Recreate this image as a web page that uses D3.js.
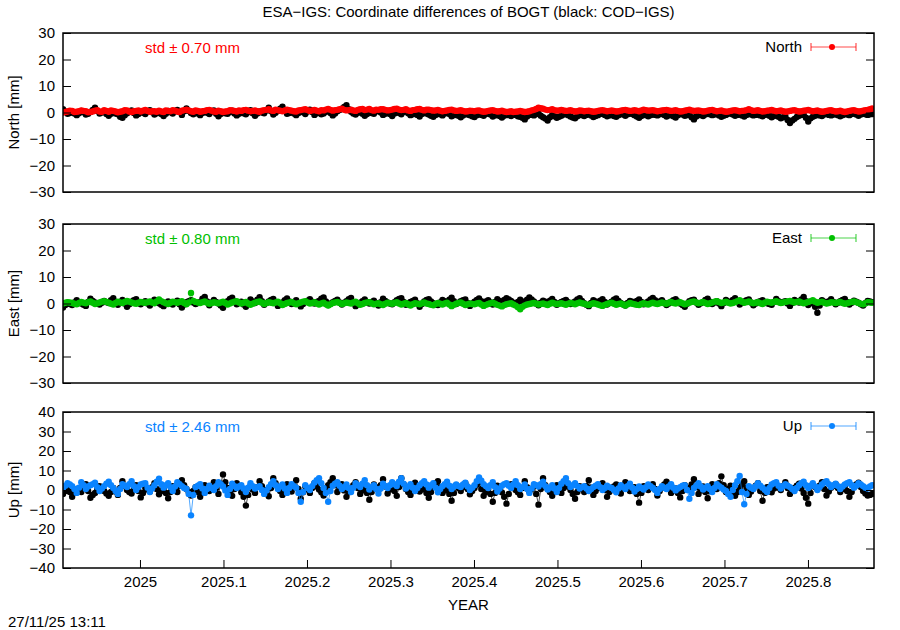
<!DOCTYPE html>
<html>
<head>
<meta charset="utf-8">
<script src="https://cdn.jsdelivr.net/npm/d3@7"></script>
<style>
html,body{margin:0;padding:0;background:#fff;}
svg{display:block;font-family:"Liberation Sans",Arial,Helvetica,sans-serif;}
</style>
</head>
<body>
<svg id="chart" width="900" height="630"></svg>
<script>
// ---------------- DATA ----------------
const title = "ESA\u2212IGS: Coordinate differences of BOGT (black: COD\u2212IGS)";
const xLabel = "YEAR";
const timestamp = "27/11/25 13:11";
const xDomain = [2024.9078, 2025.8791];
const xTicks = [2025, 2025.1, 2025.2, 2025.3, 2025.4, 2025.5, 2025.6, 2025.7, 2025.8];
const startYear = 2024.9078;       // first daily epoch
const stepYears = 1 / 365.25;      // one day

const components = ["North", "East", "Up"];
const stdLabels = ["0.70", "0.80", "2.46"];
const yDomains = [[-30, 30], [-30, 30], [-40, 40]];
const yTicks = [
  [-30, -20, -10, 0, 10, 20, 30],
  [-30, -20, -10, 0, 10, 20, 30],
  [-40, -30, -20, -10, 0, 10, 20, 30, 40]
];
const seriesColors = ["#ff0000", "#00c000", "#0a84ff"];

const northESA = [
0.0,0.2,0.4,0.7,0.6,0.2,0.3,0.5,0.8,0.6,0.5,0.1,0.2,0.4,0.7,0.9,0.4,0.3,0.9,0.6,
0.3,0.8,0.6,0.4,0.1,0.3,0.5,0.9,0.8,0.4,0.2,0.5,0.6,0.8,0.4,0.7,1.0,0.6,0.3,0.5,
0.5,0.3,0.7,0.4,0.2,0.8,0.6,0.5,0.9,0.7,0.4,0.2,0.7,0.9,1.1,0.8,0.5,0.3,0.8,0.6,
0.3,0.5,0.6,0.9,1.0,0.7,0.4,0.3,0.7,0.5,0.2,0.4,0.5,0.9,0.8,0.6,0.4,0.8,0.6,0.9,
1.0,0.7,0.5,0.6,0.8,0.5,0.3,0.7,0.9,1.0,1.2,0.8,0.6,1.1,0.9,0.7,0.5,0.8,1.1,0.9,
0.7,0.5,0.4,0.8,0.9,1.1,1.2,0.9,0.6,0.8,1.0,0.7,0.5,0.9,0.8,1.1,1.3,1.0,0.7,0.9,
1.0,1.2,1.4,1.0,0.8,0.9,1.1,0.8,0.6,1.0,1.2,1.3,0.9,1.1,1.3,0.9,0.7,1.1,1.0,1.2,
1.2,1.0,0.8,0.9,1.1,1.3,1.4,1.1,0.9,1.0,1.2,0.8,0.6,0.9,1.0,1.2,1.3,1.0,0.8,1.1,
1.1,0.9,0.7,0.8,1.0,0.7,0.5,0.6,0.8,1.0,1.1,0.8,0.6,0.7,0.9,0.6,0.4,0.5,0.7,0.6,
0.5,0.7,0.8,0.5,0.3,0.4,0.6,0.8,0.9,0.6,0.4,0.5,0.7,0.4,0.2,0.3,0.5,0.2,0.3,0.4,
0.6,0.4,0.2,0.3,0.5,0.8,1.0,1.3,1.8,1.6,1.4,1.1,0.9,1.0,1.2,0.9,0.7,0.8,1.0,0.8,
0.6,0.7,0.9,0.6,0.4,0.5,0.8,0.7,0.5,0.6,0.7,0.5,0.3,0.4,0.6,0.8,0.9,0.7,0.5,0.6,
0.8,0.6,0.4,0.5,0.7,0.9,1.0,0.8,0.6,0.7,0.9,0.7,0.5,0.8,1.1,0.9,0.7,0.8,0.9,0.7,
0.5,0.6,0.8,0.9,1.0,0.8,0.6,0.7,0.9,0.6,0.4,0.5,0.7,0.9,1.1,0.8,0.6,0.7,0.8,0.6,
0.4,0.5,0.7,0.9,1.0,0.7,0.5,0.6,0.8,0.5,0.3,0.4,0.6,0.8,0.9,0.7,0.5,0.6,0.7,0.9,
1.2,0.9,0.6,0.7,0.9,0.6,0.4,0.5,0.7,0.8,1.0,0.7,0.5,0.6,0.8,0.5,0.3,0.4,0.6,0.8,
0.9,0.6,0.4,0.5,0.7,0.8,1.0,0.7,0.5,0.6,0.8,0.5,0.3,0.4,0.6,0.8,0.9,0.6,0.4,0.5,
0.7,0.4,0.2,0.4,0.6,0.8,0.9,0.6,0.4,0.5,0.7,0.9,1.0,1.2,1.5
];
const northCOD = [
1.2,0.4,-0.5,-0.2,0.3,-0.4,-1.0,-0.3,0.6,0.1,-0.8,-0.5,0.2,1.0,1.8,0.6,-0.4,0.0,0.5,-0.6,
-1.2,-0.5,0.0,-0.4,-0.7,-1.6,-2.0,-1.0,-0.3,0.2,0.8,-0.2,-1.1,-0.6,0.4,-0.1,-0.6,0.3,0.9,0.1,
-0.8,-0.3,0.2,-0.6,-1.3,-0.5,0.6,0.1,-0.4,0.4,1.0,0.2,-0.9,0.5,1.5,0.6,-0.2,-0.7,0.3,-0.4,
-1.0,-0.2,0.5,-0.1,-0.6,0.3,0.8,-0.5,-1.4,-0.6,0.1,-0.3,-0.5,0.2,0.7,-0.4,-1.1,-0.5,0.2,-0.3,
-0.7,0.1,0.9,-0.3,-1.2,-0.4,0.4,0.0,-0.3,0.8,1.8,0.5,-0.8,-0.1,0.6,1.4,2.2,0.7,-0.5,-0.2,
0.3,-0.4,-1.0,-0.2,0.7,0.1,-0.6,0.4,1.1,0.2,-0.9,-0.3,0.2,-0.7,-0.4,0.3,0.9,-0.2,-1.1,-0.4,
0.5,0.9,1.4,2.1,2.8,1.2,0.3,-0.4,-0.8,-0.1,0.6,-0.5,-1.2,-0.6,0.2,-0.2,-0.5,0.4,0.8,0.0,
-0.9,-0.5,0.1,-0.6,-1.3,-0.4,0.4,-0.2,-0.7,0.2,0.9,-0.3,-1.0,-0.7,-0.2,-0.9,-1.5,-0.6,0.3,-0.4,
-0.8,-1.2,-1.6,-0.9,-0.3,-0.7,-1.1,-0.4,0.2,-0.6,-1.4,-1.0,-0.6,-1.2,-1.8,-1.1,-0.4,-0.8,-1.0,-1.4,
-1.7,-1.0,-0.5,-0.9,-1.2,-0.6,-0.2,-0.8,-1.5,-1.1,-0.8,-1.3,-1.9,-1.2,-0.6,-1.0,-1.3,-0.7,-0.9,-1.4,
-1.6,-2.0,-2.6,-1.5,-0.7,-0.9,-1.1,-0.6,-0.4,-1.2,-1.8,-2.3,-3.0,-1.8,-0.9,-1.4,-2.0,-1.6,-1.2,-0.8,
-0.6,-1.0,-1.5,-1.9,-2.2,-1.4,-0.8,-1.0,-1.3,-0.9,-0.5,-1.1,-1.7,-1.3,-1.0,-0.6,-0.4,-0.9,-1.4,-1.1,
-0.9,-1.3,-1.6,-1.0,-0.5,-0.8,-1.2,-0.7,-0.3,-0.6,-1.0,-1.5,-2.0,-1.3,-0.7,-1.0,-1.4,-1.0,-0.6,-0.9,
-1.1,-0.7,-0.4,-0.9,-1.5,-1.1,-0.8,-1.4,-1.9,-1.0,-0.5,-0.8,-1.2,-1.0,-0.9,-1.8,-2.6,-1.5,-0.7,-1.0,
-1.3,-0.8,-0.4,-0.7,-1.0,-0.8,-0.6,-1.1,-1.6,-1.2,-0.9,-0.5,-0.3,-0.8,-1.2,-0.9,-0.7,-1.1,-1.5,-0.9,
-0.5,-0.8,-1.1,-0.9,-0.8,-1.1,-1.4,-0.9,-0.6,-1.2,-1.8,-1.3,-1.0,-1.6,-2.2,-1.8,-1.5,-2.8,-4.0,-3.0,
-2.4,-1.7,-1.2,-0.9,-0.8,-2.0,-3.4,-2.2,-1.6,-1.2,-0.9,-1.1,-1.3,-0.8,-0.5,-0.9,-1.1,-0.8,-0.7,-1.0,
-1.4,-1.0,-0.6,-0.8,-1.0,-0.6,-0.3,-0.8,-1.2,-0.8,-0.5,-0.7,-0.9,-0.7,-0.6
];
const eastESA = [
0.0,0.3,0.5,0.4,0.2,-0.1,-0.3,0.2,0.6,0.3,0.1,0.5,0.8,0.3,-0.2,0.1,0.4,0.7,0.9,0.6,
0.3,-0.1,-0.4,0.2,0.7,0.4,0.2,0.6,1.0,0.7,0.4,0.1,-0.1,0.3,0.6,0.4,0.3,0.5,0.8,0.4,
0.1,0.8,1.5,0.9,0.5,0.1,-0.2,0.3,0.7,0.5,0.3,0.6,0.9,0.2,-0.3,0.4,4.0,1.0,0.6,0.4,
0.2,0.5,0.8,0.3,-0.1,0.2,0.5,0.3,0.1,0.4,0.7,0.2,-0.4,0.0,0.4,0.7,0.9,0.4,0.0,0.3,
0.6,0.0,-0.5,-0.1,0.3,0.6,0.8,0.3,-0.2,0.2,0.5,0.3,0.1,0.4,0.7,0.1,-0.6,-0.2,0.2,0.4,
0.6,0.1,-0.3,0.1,0.4,0.7,0.9,0.4,0.0,0.2,0.5,0.0,-0.4,0.0,0.3,-0.3,-0.8,-0.3,0.2,0.4,
0.6,0.2,-0.2,0.1,0.4,0.2,0.0,0.4,0.7,0.1,-0.5,-0.2,0.2,0.4,0.5,0.1,-0.3,-0.1,0.1,-0.3,
-0.6,-0.1,0.3,0.1,-0.1,0.2,0.5,0.0,-0.4,-0.1,0.2,-0.3,-0.8,-0.3,0.1,-0.1,-0.3,0.1,0.4,0.0,
-0.2,-0.5,-0.7,-0.2,0.2,-0.1,-0.4,0.0,0.3,-0.4,-1.0,-0.5,-0.1,0.2,0.4,-0.1,-0.6,-0.3,0.0,-0.2,
-0.3,0.0,0.2,-0.4,-0.9,-0.5,-0.2,0.1,0.3,-0.1,-0.5,-0.8,-1.1,-0.6,-0.3,-0.1,0.1,-0.4,-0.8,-1.4,
-2.2,-1.2,-0.7,-0.4,-0.2,0.0,0.2,-0.1,-0.4,-0.2,0.0,-0.3,-0.6,-0.1,0.3,0.0,-0.2,-0.1,0.1,-0.2,
-0.5,-0.1,0.2,0.0,-0.3,0.1,0.4,0.1,-0.1,-0.4,-0.6,-0.2,0.1,-0.1,-0.4,-0.7,-0.9,-0.5,-0.2,0.1,
0.3,-0.1,-0.5,-0.2,0.0,-0.4,-0.8,-0.3,0.2,-0.1,-0.3,-0.5,-0.6,-0.2,0.1,-0.2,-0.4,0.0,0.3,0.0,
-0.2,0.1,0.4,0.1,-0.1,0.3,0.6,0.2,0.0,0.3,0.5,0.1,-0.3,0.0,0.3,0.6,0.8,0.4,0.1,0.3,
0.6,0.2,-0.2,0.1,0.4,0.7,0.9,0.5,0.2,0.4,0.7,0.3,0.0,0.2,0.5,0.9,1.2,0.7,0.3,0.5,
0.8,0.4,0.1,0.3,0.5,0.1,-0.2,0.3,0.7,0.5,0.3,0.6,0.9,0.5,0.2,0.4,0.6,0.8,1.0,0.7,
0.4,0.6,0.8,0.4,0.1,0.3,0.6,0.9,1.2,0.7,0.3,0.5,0.7,0.3,0.0,0.2,0.5,0.4,0.2,0.4,
0.6,0.2,-0.1,0.1,0.4,0.6,0.8,0.5,0.2,-0.1,-0.3,0.1,0.5,0.4,0.3
];
const eastCOD = [
-1.5,-0.6,0.3,-0.2,-0.6,0.4,1.2,0.5,0.0,-0.5,-0.9,0.6,1.8,1.0,0.4,-0.1,-0.4,0.3,1.0,0.5,
0.2,1.2,2.0,0.6,-0.5,0.5,1.3,0.0,-1.2,-0.3,0.7,1.2,1.6,0.6,-0.3,0.4,0.9,0.0,-0.8,0.3,
1.4,0.7,0.1,-0.5,-1.0,0.0,0.8,0.3,-0.4,0.5,1.1,-0.3,-1.5,-0.4,0.5,0.9,1.2,0.4,-0.2,0.2,
0.6,1.8,2.5,0.8,-0.7,0.4,1.3,0.6,0.0,-0.8,-1.6,-0.2,0.9,1.7,2.2,0.9,-0.3,0.2,0.7,-0.4,
-1.2,0.3,1.5,0.8,0.2,1.4,2.4,0.9,-0.5,0.2,0.8,1.3,1.7,0.4,-0.9,-0.2,0.4,1.2,1.9,0.8,
-0.2,0.6,1.2,0.0,-1.1,-0.2,0.6,1.1,1.6,0.7,0.0,0.6,1.0,1.8,2.3,0.8,-0.6,0.0,0.5,1.0,
1.4,0.4,-0.4,0.3,0.9,1.6,2.1,0.5,-1.0,-0.3,0.3,0.9,1.5,0.6,0.0,0.6,1.1,0.2,-0.8,0.5,
1.8,1.0,0.4,0.0,-0.3,0.5,1.2,1.7,2.0,0.6,-0.5,0.1,0.6,1.0,1.4,0.1,-1.2,-0.2,0.8,1.3,
1.6,0.8,0.1,-0.3,-0.6,0.4,1.3,0.9,0.5,1.4,2.2,0.9,-0.2,0.3,0.9,1.2,1.5,0.2,-0.9,0.0,
0.7,1.3,1.9,0.9,0.2,0.8,1.2,0.4,-0.4,0.6,1.6,1.0,0.5,1.3,2.0,1.5,1.0,0.3,-0.3,0.6,
1.4,0.8,0.3,1.4,2.3,1.5,0.8,0.0,-0.7,0.3,1.1,0.7,0.4,1.1,1.7,0.6,-0.5,0.1,0.6,1.0,
1.3,0.5,-0.2,0.3,0.8,1.5,2.0,1.0,0.1,-0.5,-1.0,0.2,1.2,0.8,0.5,1.1,1.6,0.6,-0.4,0.2,
0.7,1.4,1.9,1.0,0.2,-0.3,-0.8,0.2,1.0,0.7,0.4,1.0,1.5,0.6,-0.3,0.3,0.8,1.5,2.1,1.2,
0.3,0.8,1.2,0.3,-0.6,0.0,0.7,1.2,1.6,0.8,0.0,-0.6,-1.2,-0.1,0.9,1.2,1.4,0.4,-0.5,0.1,
0.6,1.3,1.8,0.7,-0.2,0.4,0.9,0.0,-1.0,0.2,1.3,0.8,0.4,1.3,2.0,0.8,-0.4,0.2,0.8,1.2,
1.5,0.4,-0.7,0.0,0.6,0.9,1.2,0.6,0.1,-0.2,-0.5,0.6,1.7,0.9,0.3,0.6,0.9,0.0,-0.9,0.2,
1.3,0.9,0.4,1.5,2.5,0.9,-0.6,0.1,0.8,-1.2,-3.5,-0.8,1.2,0.7,0.2,0.9,1.6,0.6,-0.3,0.3,
0.9,1.3,1.7,0.6,-0.4,0.3,1.1,0.7,0.3,-0.3,-0.8,0.1,1.0,0.8,0.5
];
const upESA = [
1.0,2.2,3.5,2.8,2.0,0.5,-1.5,1.2,4.0,2.5,0.5,1.8,2.5,3.0,3.8,1.5,-0.5,0.8,2.0,3.2,
4.2,2.5,1.0,-0.5,-2.0,0.5,3.0,2.2,1.5,3.0,4.5,2.0,0.0,1.5,2.8,3.2,3.5,1.2,-1.0,0.8,
2.5,4.2,5.8,3.0,1.2,2.5,3.5,1.5,-0.5,1.8,4.0,3.0,2.0,1.0,0.5,-2.0,-13.0,-2.5,1.5,2.2,
3.0,0.8,-1.5,0.5,2.2,1.0,0.0,2.0,4.0,3.0,1.8,-0.2,-2.5,0.5,3.2,2.0,1.0,1.8,2.5,0.8,
-1.0,1.2,3.5,2.0,0.8,1.5,2.0,0.0,-2.0,-0.2,1.5,3.0,4.5,2.5,0.5,1.8,2.8,0.8,-1.5,1.0,
3.0,2.0,1.2,-1.5,-6.0,-1.0,2.5,1.0,0.0,2.0,3.8,5.0,6.0,3.5,1.0,-1.5,-6.0,-0.5,2.2,3.2,
4.0,2.2,0.5,1.5,2.8,1.0,-1.0,1.2,3.5,2.5,1.5,3.2,5.0,2.5,0.2,1.5,2.5,0.5,-1.8,0.8,
3.2,2.0,1.0,2.5,4.0,3.0,2.0,4.2,6.0,3.2,0.8,1.8,3.0,1.2,-0.5,1.0,2.5,3.5,4.5,2.8,
1.2,2.5,3.5,1.2,-1.2,0.5,2.0,3.0,4.2,2.2,0.5,1.8,2.8,2.0,1.5,2.8,3.8,1.8,0.0,1.2,
2.5,4.5,6.5,4.8,3.0,2.0,1.0,2.5,4.0,1.5,-0.8,0.8,2.2,3.0,3.5,2.2,1.0,2.8,4.5,2.5,
0.5,1.5,2.8,0.5,-1.5,0.8,3.0,2.5,1.8,3.0,4.2,2.0,0.2,1.2,2.5,0.8,-1.0,1.0,3.2,4.5,
6.0,3.5,1.5,2.5,3.5,2.0,0.8,1.5,2.0,0.8,-0.5,0.5,1.5,2.2,3.0,1.5,0.0,1.0,2.2,1.5,
1.0,0.0,-1.2,0.8,2.5,1.5,0.5,2.0,3.2,1.2,-0.8,0.5,1.8,1.0,0.2,1.5,2.8,2.0,1.0,0.0,
-1.5,0.5,2.0,1.2,0.5,1.8,3.0,1.2,-0.2,0.8,1.5,2.2,2.5,0.0,-4.5,-1.5,1.0,2.2,3.5,1.8,
0.2,1.2,2.0,0.5,-1.0,1.0,3.0,2.0,1.2,0.2,-0.5,-2.0,-3.5,0.0,2.5,4.5,7.2,-1.0,-7.3,-2.0,
2.0,1.2,0.5,2.0,3.5,2.2,1.2,0.0,-1.0,1.0,2.8,3.5,4.0,2.2,0.8,2.0,3.0,2.2,1.5,0.5,
-0.5,1.0,2.5,3.5,4.2,2.5,1.0,2.2,3.5,1.8,0.0,1.5,2.8,3.8,4.5,3.0,1.5,2.5,3.2,2.0,
0.5,1.8,2.8,3.5,4.0,2.5,1.2,2.2,3.5,2.8,2.0,1.2,0.8,1.8,2.5
];
const upCOD = [
-2.0,-0.5,1.5,-1.0,-3.5,-1.5,0.5,0.0,-1.0,1.2,3.0,-0.5,-4.0,-2.5,-1.5,0.5,2.0,0.8,-0.5,-1.8,
-3.0,-1.0,1.0,-0.8,-2.5,1.0,4.5,2.0,0.0,-1.0,-1.8,0.5,2.5,-0.5,-3.8,-1.5,1.2,0.2,-0.8,1.5,
3.5,0.5,-2.2,-0.5,0.8,-1.5,-4.2,-1.0,2.0,0.5,-1.0,2.0,5.0,2.5,0.5,-1.0,-2.8,-0.5,1.5,-1.0,
-3.5,-0.5,2.5,1.0,-0.5,1.5,4.0,1.0,-2.0,3.0,8.0,4.0,1.0,-1.0,-3.0,0.5,3.5,1.2,-1.2,-3.5,
-8.0,-2.5,2.0,0.2,-1.5,1.5,4.5,2.0,0.0,-1.5,-3.2,1.0,6.0,3.5,1.5,-0.5,-2.5,0.5,3.0,1.0,
-0.8,2.0,5.0,0.5,-4.5,-1.2,1.8,0.2,-1.5,1.0,3.5,1.8,0.2,-1.2,-2.8,0.0,2.5,4.0,6.0,2.5,
-1.0,1.0,3.0,-0.2,-3.5,-1.2,0.8,2.5,4.0,1.0,-2.0,-0.2,1.5,-1.5,-5.0,-1.0,2.8,1.5,0.0,2.5,
5.5,1.8,-1.8,0.2,2.2,-0.5,-3.0,1.5,6.0,3.0,0.5,-1.0,-2.5,0.5,3.8,1.5,-0.8,0.2,1.5,-1.5,
-4.0,-1.0,2.0,3.5,4.5,1.5,-1.5,-0.2,0.8,-2.0,-5.5,-1.5,2.5,1.0,-0.5,1.5,3.5,0.5,-2.2,-0.5,
1.0,2.8,4.0,0.5,-3.0,-1.0,0.5,-2.0,-6.0,-1.5,2.2,0.5,-1.2,-3.5,-7.0,-2.0,3.0,1.2,0.0,-1.2,
-2.5,1.0,4.5,1.5,-0.8,0.5,1.8,-2.0,-7.5,0.5,6.0,2.5,0.5,-1.0,-3.0,-0.2,2.5,0.5,-1.5,1.0,
3.8,1.8,0.0,-2.0,-4.5,-1.0,2.0,0.5,-1.0,2.0,5.0,1.2,-2.5,-0.5,1.0,2.2,3.5,0.0,-3.5,-1.0,
0.5,1.8,2.8,0.5,-1.8,1.0,4.0,1.5,-0.5,0.5,1.5,-2.0,-6.5,-1.5,2.0,1.0,0.0,1.5,3.0,0.5,
-2.8,-0.5,1.2,2.8,4.2,1.5,-1.5,-0.2,0.8,-1.5,-3.8,-0.5,2.5,1.2,0.0,2.8,5.5,1.5,-2.0,-0.2,
1.8,-1.0,-4.2,-0.5,3.0,1.8,0.5,3.5,7.0,2.5,-1.0,0.5,2.2,-0.5,-3.0,-1.0,1.0,2.8,4.5,1.0,
-2.5,-0.8,0.8,2.2,3.5,-0.5,-5.5,-1.5,1.5,0.2,-1.2,0.8,2.8,1.2,0.0,2.0,4.0,1.0,-2.0,-0.5,
1.0,2.2,3.2,0.8,-1.5,-4.0,-7.0,-1.5,2.5,1.5,0.5,2.2,4.0,0.5,-2.8,-0.8,1.2,2.0,3.0,1.0,
-1.0,0.5,2.0,-0.5,-3.5,-1.0,1.5,2.8,3.8,1.5,-0.5,-1.8,-2.8,-2.5,-2.0
];
const esaSeries = [northESA, eastESA, upESA];
const codSeries = [northCOD, eastCOD, upCOD];

// ---------------- LAYOUT ----------------
const svg = d3.select("#chart");
const plotLeft = 63, plotRight = 874;
const panelTops = [33, 224, 412];
const panelBottoms = [192, 383, 568];
const fontSize = 15;
const fontFam = "Liberation Sans, Arial, sans-serif";

const x = d3.scaleLinear().domain(xDomain).range([plotLeft, plotRight]);

svg.append("text")
  .attr("x", (plotLeft + plotRight) / 2).attr("y", 17)
  .attr("text-anchor", "middle").attr("font-size", fontSize)
  .text(title);

const clipDefs = svg.append("defs");

components.forEach((comp, p) => {
  const y = d3.scaleLinear().domain(yDomains[p]).range([panelBottoms[p], panelTops[p]]);
  const g = svg.append("g");
  const clipId = "clip" + p;
  clipDefs.append("clipPath").attr("id", clipId).append("rect")
    .attr("x", plotLeft).attr("y", panelTops[p])
    .attr("width", plotRight - plotLeft).attr("height", panelBottoms[p] - panelTops[p]);

  const toPts = arr => arr.map((v, i) => ({t: startYear + i * stepYears, v}));
  const line = d3.line().x(d => x(d.t)).y(d => y(d.v));
  const dataG = g.append("g").attr("clip-path", `url(#${clipId})`);

  [[codSeries[p], "#000000"], [esaSeries[p], seriesColors[p]]].forEach(([arr, col]) => {
    const pts = toPts(arr);
    dataG.append("path").datum(pts)
      .attr("d", line).attr("fill", "none")
      .attr("stroke", col).attr("stroke-width", 1).attr("stroke-opacity", 0.7);
    dataG.selectAll(null).data(pts).enter().append("circle")
      .attr("cx", d => x(d.t)).attr("cy", d => y(d.v))
      .attr("r", 3.2).attr("fill", col);
  });

  // left axis: ticks inward
  const leftAxis = d3.axisLeft(y).tickValues(yTicks[p]).tickSize(-8).tickPadding(8)
    .tickFormat(d => d < 0 ? "\u2212" + Math.abs(d) : String(d));
  const la = g.append("g").attr("transform", `translate(${plotLeft},0)`).call(leftAxis);
  la.select(".domain").remove();
  la.selectAll("text").attr("font-size", fontSize).attr("font-family", fontFam).attr("fill", "#000");
  la.selectAll("line").attr("stroke", "#000").attr("stroke-width", 1);

  // right mirrored ticks
  const rightAxis = d3.axisRight(y).tickValues(yTicks[p]).tickSize(-8).tickFormat("");
  const ra = g.append("g").attr("transform", `translate(${plotRight},0)`).call(rightAxis);
  ra.select(".domain").remove();
  ra.selectAll("line").attr("stroke", "#000").attr("stroke-width", 1);

  if (p === components.length - 1) {
    const bottomAxis = d3.axisBottom(x).tickValues(xTicks).tickSize(-8).tickPadding(8)
      .tickFormat(d => String(+d.toFixed(1)));
    const ba = g.append("g").attr("transform", `translate(0,${panelBottoms[p]})`).call(bottomAxis);
    ba.select(".domain").remove();
    ba.selectAll("text").attr("font-size", fontSize).attr("font-family", fontFam).attr("fill", "#000");
    ba.selectAll("line").attr("stroke", "#000").attr("stroke-width", 1);
  }

  // frame
  g.append("rect")
    .attr("x", plotLeft).attr("y", panelTops[p])
    .attr("width", plotRight - plotLeft).attr("height", panelBottoms[p] - panelTops[p])
    .attr("fill", "none").attr("stroke", "#000").attr("stroke-width", 1.5);

  // y label
  const midY = (panelTops[p] + panelBottoms[p]) / 2;
  g.append("text")
    .attr("transform", `translate(19,${midY}) rotate(-90)`)
    .attr("text-anchor", "middle").attr("font-size", fontSize)
    .text(comp + " [mm]");

  // std text
  g.append("text")
    .attr("x", 145).attr("y", panelTops[p] + 20)
    .attr("font-size", fontSize).attr("fill", seriesColors[p])
    .text("std \u00b1 " + stdLabels[p] + " mm");

  // legend
  const ly = panelTops[p] + 14;
  g.append("text")
    .attr("x", 802).attr("y", ly + 5).attr("text-anchor", "end")
    .attr("font-size", fontSize).text(comp);
  const lg = g.append("g").attr("stroke", seriesColors[p]).attr("stroke-opacity", 0.7).attr("stroke-width", 1.2);
  lg.append("line").attr("x1", 811).attr("x2", 856).attr("y1", ly).attr("y2", ly);
  lg.append("line").attr("x1", 811).attr("x2", 811).attr("y1", ly - 4).attr("y2", ly + 4);
  lg.append("line").attr("x1", 856).attr("x2", 856).attr("y1", ly - 4).attr("y2", ly + 4);
  g.append("circle").attr("cx", 832).attr("cy", ly).attr("r", 3).attr("fill", seriesColors[p]);
});

svg.append("text")
  .attr("x", (plotLeft + plotRight) / 2).attr("y", 610)
  .attr("text-anchor", "middle").attr("font-size", fontSize)
  .text(xLabel);

svg.append("text")
  .attr("x", 8).attr("y", 627)
  .attr("font-size", fontSize)
  .text(timestamp);
</script>
</body>
</html>
